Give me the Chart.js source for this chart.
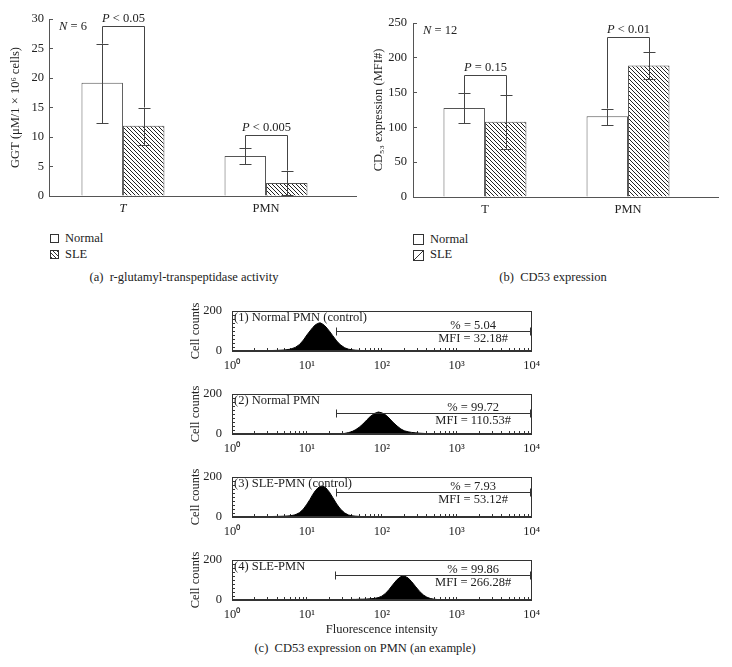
<!DOCTYPE html>
<html>
<head>
<meta charset="utf-8">
<script src="https://cdn.jsdelivr.net/npm/chart.js@4.4.0/dist/chart.umd.min.js"></script>
<style>
body { margin: 0; background: #fff; width: 732px; height: 667px; position: relative; overflow: hidden;
       font-family: 'Liberation Serif', 'Times New Roman', serif; color: #222; }
canvas { position: absolute; }
.txt { position: absolute; font-size: 12.5px; line-height: 14px; white-space: nowrap; }
.cap { position: absolute; font-size: 12.5px; line-height: 14px; white-space: nowrap; text-align: center; }
.box { position: absolute; border: 1px solid #333; background: #fff; }
</style>
</head>
<body>
<canvas id="chartA" width="366" height="215" style="left:0;top:0"></canvas>
<canvas id="chartB" width="362" height="216" style="left:370px;top:0"></canvas>
<canvas id="hist0" width="370" height="70" style="left:180px;top:301px"></canvas>
<canvas id="hist1" width="370" height="70" style="left:180px;top:384px"></canvas>
<canvas id="hist2" width="370" height="70" style="left:180px;top:467px"></canvas>
<canvas id="hist3" width="370" height="90" style="left:180px;top:550px"></canvas>

<!-- legends and captions -->
<div class="box" style="left:50px;top:234px;width:7px;height:7px"></div>
<div class="txt" style="left:65px;top:231px">Normal</div>
<div class="box" style="left:50px;top:250px;width:7px;height:7px;background:repeating-linear-gradient(45deg,#333 0 1px,#fff 1px 3px)"></div>
<div class="txt" style="left:65px;top:247px">SLE</div>
<div class="cap" style="left:64px;width:240px;top:270px">(a)&nbsp; r-glutamyl-transpeptidase activity</div>

<div class="box" style="left:413px;top:234px;width:9px;height:9px"></div>
<div class="txt" style="left:430px;top:232px">Normal</div>
<div class="box" style="left:413px;top:250px;width:9px;height:9px;background:linear-gradient(to bottom right,#fff 45%,#333 45%,#333 55%,#fff 55%)"></div>
<div class="txt" style="left:430px;top:247px">SLE</div>
<div class="cap" style="left:453px;width:200px;top:270px">(b)&nbsp; CD53 expression</div>

<div class="cap" style="left:215px;width:300px;top:641px">(c)&nbsp; CD53 expression on PMN (an example)</div>

<script>
const fontFamily = "'Liberation Serif', 'Times New Roman', serif";
Chart.defaults.font.family = fontFamily;
Chart.defaults.font.size = 12;
Chart.defaults.color = '#222';

// (a) GGT activity
const categories = ['T', 'PMN'];
const ggtNormal = [19.2, 6.8];
const ggtSLE = [11.9, 2.2];
const ggtNormalErr = [[12.4, 25.8], [5.4, 8.1]];
const ggtSLEErr = [[8.6, 15.0], [0.1, 4.3]];
const ggtBracket = [28.8, 10.4];
const ggtPLabels = [['P', ' < 0.05'], ['P', ' < 0.005']];
const ggtTicks = [0, 5, 10, 15, 20, 25, 30];

// (b) CD53 expression
const cd53Normal = [128, 116];
const cd53SLE = [108, 189];
const cd53NormalErr = [[106, 149], [104, 127]];
const cd53SLEErr = [[69, 146], [169, 208]];
const cd53Bracket = [176, 230];
const cd53PLabels = [['P', ' = 0.15'], ['P', ' < 0.01']];
const cd53Ticks = [0, 50, 100, 150, 200, 250];

// (c) histograms, fluorescence channel vs cell counts
const fluorX = [1, 2, 3, 4, 5, 6, 7, 8, 9, 10, 11, 12, 13, 14, 15, 16, 17, 18, 20, 22, 25, 28,
  32, 36, 40, 45, 50, 56, 63, 70, 80, 90, 100, 112, 125, 140, 160, 180, 200, 225, 250, 280,
  320, 360, 400, 450, 500, 560, 630, 710, 800, 1000, 2000, 10000];
const countsNormalCtrl = [0, 1, 2, 3, 5, 9, 18, 33, 55, 80, 100, 118, 131, 138, 141, 136, 129, 120, 99, 78, 50, 31,
  16, 9, 6, 4, 3, 2, 2, 1, 1, 1, 1, 0, 0, 0, 0, 0, 0, 0, 0, 0,
  0, 0, 0, 0, 0, 0, 0, 0, 0, 0, 0, 0];
const countsNormal = [0, 0, 0, 0, 0, 0, 0, 0, 0, 0, 0, 0, 0, 0, 0, 1, 1, 1, 1, 1, 1, 2,
  3, 7, 12, 22, 34, 50, 70, 87, 103, 110, 106, 96, 80, 60, 40, 25, 16, 11, 8, 6,
  4, 3, 2, 2, 1, 1, 1, 0, 0, 0, 0, 0];
const countsSLECtrl = [0, 1, 2, 3, 4, 6, 11, 22, 40, 64, 88, 113, 132, 145, 153, 155, 151, 145, 124, 99, 65, 40,
  20, 10, 6, 4, 3, 2, 2, 1, 1, 1, 0, 0, 0, 0, 0, 0, 0, 0, 0, 0,
  0, 0, 0, 0, 0, 0, 0, 0, 0, 0, 0, 0];
const countsSLE = [0, 0, 0, 0, 0, 0, 0, 0, 0, 0, 0, 0, 0, 0, 0, 0, 1, 1, 1, 1, 1, 2,
  2, 2, 3, 3, 4, 4, 5, 6, 8, 12, 19, 33, 52, 76, 102, 117, 120, 110, 92, 69,
  43, 25, 14, 7, 4, 2, 1, 0, 0, 0, 0, 0];
const histCounts = [countsNormalCtrl, countsNormal, countsSLECtrl, countsSLE];
const histLabels = ['(1) Normal PMN (control)', '(2) Normal PMN', '(3) SLE-PMN (control)', '(4) SLE-PMN'];
const pctLabels = ['% = 5.04', '% = 99.72', '% = 7.93', '% = 99.86'];
const mfiLabels = ['MFI = 32.18#', 'MFI = 110.53#', 'MFI = 53.12#', 'MFI = 266.28#'];
const gateStart = [24.5, 24.5, 24.5, 24];
const gateY = [100, 105, 125, 125];
const sup = ['\u2070', '\u00b9', '\u00b2', '\u00b3', '\u2074'];

// diagonal hatch for SLE bars
function makeHatch() {
  const c = document.createElement('canvas');
  c.width = 4; c.height = 4;
  const g = c.getContext('2d');
  g.fillStyle = '#fff';
  g.fillRect(0, 0, 4, 4);
  g.strokeStyle = '#222';
  g.lineWidth = 1;
  g.beginPath();
  g.moveTo(-1, -1); g.lineTo(5, 5);
  g.moveTo(-1, 3); g.lineTo(1, 5);
  g.moveTo(3, -1); g.lineTo(5, 1);
  g.stroke();
  return g.createPattern(c, 'repeat');
}
const hatch = makeHatch();

// italic first part, normal second part
function drawMixed(ctx, parts, x, y, align) {
  const italic = 'italic 12.5px ' + fontFamily;
  const normal = '12.5px ' + fontFamily;
  ctx.font = italic;
  const w1 = ctx.measureText(parts[0]).width;
  ctx.font = normal;
  const w2 = ctx.measureText(parts[1]).width;
  const start = align === 'left' ? x : x - (w1 + w2) / 2;
  ctx.fillStyle = '#222';
  ctx.textBaseline = 'middle';
  ctx.textAlign = 'left';
  ctx.font = italic;
  ctx.fillText(parts[0], start, y);
  ctx.font = normal;
  ctx.fillText(parts[1], start + w1, y);
}

// error bars, significance brackets and N label
function barMarks(errN, errS, bracket, pLabels, nLabel) {
  return {
    id: 'barMarks',
    afterDatasetsDraw(chart) {
      const ctx = chart.ctx, y = chart.scales.y, area = chart.chartArea;
      const metaN = chart.getDatasetMeta(0), metaS = chart.getDatasetMeta(1);
      ctx.save();
      ctx.strokeStyle = '#444';
      ctx.lineWidth = 1;
      [[metaN, errN], [metaS, errS]].forEach(([meta, err]) => {
        meta.data.forEach((bar, j) => {
          const x = Math.round(bar.x) + 0.5;
          const lo = Math.round(y.getPixelForValue(err[j][0])) + 0.5;
          const hi = Math.round(y.getPixelForValue(err[j][1])) + 0.5;
          ctx.beginPath();
          ctx.moveTo(x, lo); ctx.lineTo(x, hi);
          ctx.moveTo(x - 6, hi); ctx.lineTo(x + 6, hi);
          ctx.moveTo(x - 6, lo); ctx.lineTo(x + 6, lo);
          ctx.stroke();
        });
      });
      metaN.data.forEach((bar, j) => {
        const x1 = Math.round(bar.x) + 0.5;
        const x2 = Math.round(metaS.data[j].x) + 0.5;
        const top = Math.round(y.getPixelForValue(bracket[j])) + 0.5;
        ctx.beginPath();
        ctx.moveTo(x1, y.getPixelForValue(errN[j][1]));
        ctx.lineTo(x1, top);
        ctx.lineTo(x2, top);
        ctx.lineTo(x2, y.getPixelForValue(errS[j][1]));
        ctx.stroke();
        drawMixed(ctx, pLabels[j], (x1 + x2) / 2, top - 8);
      });
      drawMixed(ctx, nLabel, area.left + 10, area.top + 8, 'left');
      ctx.restore();
    }
  };
}

function barChart(id, normal, sle, ticks, xMin, xMax, pad, yWidth, yTitle, titlePad, labelPad, italicT, marks) {
  new Chart(document.getElementById(id), {
    type: 'bar',
    data: {
      datasets: [
        { label: 'Normal', data: normal.map((v, i) => ({ x: i + 1, y: v })),
          backgroundColor: '#fff', borderColor: '#555', borderWidth: 1,
          categoryPercentage: 0.58, barPercentage: 1 },
        { label: 'SLE', data: sle.map((v, i) => ({ x: i + 1, y: v })),
          backgroundColor: hatch, borderColor: '#555', borderWidth: 1,
          categoryPercentage: 0.58, barPercentage: 1 }
      ]
    },
    options: {
      responsive: false,
      animation: false,
      devicePixelRatio: 1,
      layout: { padding: pad },
      plugins: { legend: { display: false }, tooltip: { enabled: false } },
      scales: {
        x: {
          type: 'linear', min: xMin, max: xMax, offset: false,
          ticks: {
            stepSize: 1, includeBounds: false, padding: 5,
            callback: v => categories[v - 1] || '',
            font: c => ({ size: 12.5, style: (italicT && c.tick && c.tick.value === 1) ? 'italic' : 'normal' })
          },
          grid: { drawOnChartArea: false, drawTicks: false },
          border: { color: '#555' },
          afterFit: s => { s.height = 19; }
        },
        y: {
          min: ticks[0], max: ticks[ticks.length - 1],
          ticks: { stepSize: ticks[1] - ticks[0], padding: labelPad, font: { size: 12.5 } },
          grid: { drawOnChartArea: false, tickLength: -4, color: '#555' },
          border: { color: '#555' },
          title: { display: true, text: yTitle, padding: { top: titlePad, bottom: 0 }, font: { size: 12.5 } },
          afterFit: s => { s.width = yWidth; }
        }
      }
    },
    plugins: [marks]
  });
}

barChart('chartA', ggtNormal, ggtSLE, ggtTicks, 0.483, 2.629, { top: 19, right: 10 }, 49,
  'GGT (\u03bcM/1 \u00d7 10\u2076 cells)', 8, 9, true,
  barMarks(ggtNormalErr, ggtSLEErr, ggtBracket, ggtPLabels, ['N', ' = 6']));
barChart('chartB', cd53Normal, cd53SLE, cd53Ticks, 0.497, 2.629, { top: 23, right: 14 }, 43,
  'CD\u2085\u2083 expression (MFI#)', 1, 10, false,
  barMarks(cd53NormalErr, cd53SLEErr, cd53Bracket, cd53PLabels, ['N', ' = 12']));

// frame, gate marker and texts for each histogram
function histMarks(i) {
  return {
    id: 'histMarks',
    afterDraw(chart) {
      const ctx = chart.ctx, a = chart.chartArea, x = chart.scales.x, y = chart.scales.y;
      ctx.save();
      ctx.strokeStyle = '#333';
      ctx.lineWidth = 1;
      ctx.strokeRect(Math.round(a.left) + 0.5, Math.round(a.top) + 0.5, Math.round(a.width) - 1, Math.round(a.height) - 1);
      const gx = Math.round(x.getPixelForValue(gateStart[i])) + 0.5;
      const gy = Math.round(y.getPixelForValue(gateY[i])) + 0.5;
      const rx = Math.round(a.right) - 0.5;
      ctx.beginPath();
      ctx.moveTo(gx, gy); ctx.lineTo(rx, gy);
      ctx.moveTo(gx, gy - 4); ctx.lineTo(gx, gy + 4);
      ctx.moveTo(rx - 1, gy - 4); ctx.lineTo(rx - 1, gy + 4);
      ctx.stroke();
      ctx.fillStyle = '#222';
      ctx.font = '12.5px ' + fontFamily;
      ctx.textAlign = 'center';
      ctx.textBaseline = 'middle';
      const tx = a.left + a.width * 0.805;
      ctx.fillText(pctLabels[i], tx, gy - 6);
      ctx.fillText(mfiLabels[i], tx, gy + 7);
      ctx.textAlign = 'left';
      ctx.fillText(histLabels[i], a.left + 2, a.top + 7);
      ctx.restore();
    }
  };
}

function histChart(i) {
  const last = i === histCounts.length - 1;
  new Chart(document.getElementById('hist' + i), {
    type: 'line',
    data: {
      datasets: [{
        data: fluorX.map((v, k) => ({ x: v, y: histCounts[i][k] })),
        fill: 'origin', backgroundColor: '#000', borderColor: '#000', borderWidth: 1,
        pointRadius: 0, tension: 0
      }]
    },
    options: {
      responsive: false,
      animation: false,
      devicePixelRatio: 1,
      layout: { padding: { top: 10, right: 16 } },
      plugins: { legend: { display: false }, tooltip: { enabled: false } },
      scales: {
        x: {
          type: 'logarithmic', min: 1, max: 10000,
          afterBuildTicks: s => { s.ticks = s.ticks.filter(t => !/^15/.test(String(t.value))); },
          ticks: {
            autoSkip: false, maxRotation: 0, padding: 10, font: { size: 12.5 },
            callback: v => {
              const p = Math.round(Math.log10(v));
              return Math.abs(v - Math.pow(10, p)) < 1e-6 ? '10' + sup[p] : '';
            }
          },
          grid: { drawOnChartArea: false, tickLength: -3, color: '#333' },
          border: { color: '#333' },
          title: { display: last, text: 'Fluorescence intensity', padding: { top: 0, bottom: 3 }, font: { size: 12.5 } },
          afterFit: s => { s.height = last ? 40 : 20; }
        },
        y: {
          min: 0, max: 200,
          ticks: { stepSize: 20, autoSkip: false, padding: 13, font: { size: 12.5 },
                   callback: v => (v === 0 || v === 200) ? String(v) : '' },
          grid: { drawOnChartArea: false, tickLength: -3, color: '#333' },
          border: { color: '#333' },
          title: { display: true, text: 'Cell counts', padding: { top: 8, bottom: 0 }, font: { size: 12.5 } },
          afterFit: s => { s.width = 52; s.paddingTop = 6; s.paddingBottom = 6; }
        }
      }
    },
    plugins: [histMarks(i)]
  });
}

for (let i = 0; i < histCounts.length; i++) histChart(i);
</script>
</body>
</html>
